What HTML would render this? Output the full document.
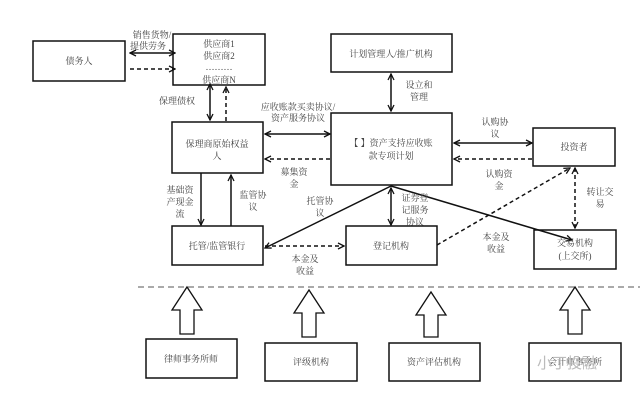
<!DOCTYPE html>
<html><head><meta charset="utf-8"><style>
body{margin:0;background:#fff}
svg text{font-family:"Liberation Serif","Noto Serif CJK SC",serif;font-size:9px;fill:#444}
</style></head><body>
<svg width="640" height="401" viewBox="0 0 640 401" xmlns="http://www.w3.org/2000/svg">
<defs>
<marker id="a" markerWidth="8" markerHeight="8" refX="7" refY="4" orient="auto-start-reverse" markerUnits="userSpaceOnUse"><path d="M1,1 L7,4 L1,7" fill="none" stroke="#111" stroke-width="1.3"/></marker>
</defs>
<g fill="#fff" stroke="#111" stroke-width="1.5">
<rect x="33" y="41" width="92" height="40"/>
<rect x="173" y="34" width="92" height="51"/>
<rect x="331" y="34" width="121" height="38"/>
<rect x="172" y="122" width="91" height="51"/>
<rect x="331" y="113" width="121" height="72"/>
<rect x="533" y="128" width="82" height="38"/>
<rect x="172" y="226" width="91" height="39"/>
<rect x="346" y="226" width="91" height="39"/>
<rect x="534" y="230" width="82" height="39"/>
<rect x="146" y="339" width="91" height="39"/>
<rect x="265" y="343" width="92" height="38"/>
<rect x="389" y="343" width="91" height="38"/>
<rect x="529" y="343" width="92" height="38"/>
</g>
<g stroke="#111" stroke-width="1.5" fill="none">
<line x1="130" y1="53" x2="175" y2="53" marker-start="url(#a)" marker-end="url(#a)"/>
<line x1="130" y1="69" x2="175" y2="69" stroke-dasharray="4,3" marker-end="url(#a)"/>
<line x1="210" y1="84" x2="210" y2="120" marker-start="url(#a)" marker-end="url(#a)"/>
<line x1="226" y1="121" x2="226" y2="87" stroke-dasharray="4,3" marker-end="url(#a)"/>
<line x1="265" y1="134" x2="330" y2="134" marker-start="url(#a)" marker-end="url(#a)"/>
<line x1="330" y1="159" x2="265" y2="159" stroke-dasharray="4,3" marker-end="url(#a)"/>
<line x1="391" y1="74" x2="391" y2="111" marker-start="url(#a)" marker-end="url(#a)"/>
<line x1="454" y1="143" x2="532" y2="143" marker-start="url(#a)" marker-end="url(#a)"/>
<line x1="532" y1="159" x2="454" y2="159" stroke-dasharray="4,3" marker-end="url(#a)"/>
<line x1="201" y1="173" x2="201" y2="225" marker-end="url(#a)"/>
<line x1="231" y1="226" x2="231" y2="175" marker-end="url(#a)"/>
<line x1="391" y1="186" x2="265" y2="248" marker-end="url(#a)"/>
<line x1="391" y1="188" x2="391" y2="225" marker-start="url(#a)" marker-end="url(#a)"/>
<line x1="391" y1="186" x2="572" y2="240" marker-end="url(#a)"/>
<line x1="265" y1="246" x2="344" y2="246" stroke-dasharray="4,3" marker-end="url(#a)"/>
<line x1="437" y1="245" x2="570" y2="168" stroke-dasharray="4,3" marker-end="url(#a)"/>
<line x1="575" y1="168" x2="575" y2="228" stroke-dasharray="4,3" marker-start="url(#a)" marker-end="url(#a)"/>
<line x1="138" y1="287" x2="640" y2="287" stroke="#777" stroke-width="1.2" stroke-dasharray="6,4"/>
</g>
<g fill="#fff" stroke="#111" stroke-width="1.3">
<path d="M180,334 L180,310 L172,310 L187,287 L202,310 L194,310 L194,334 Z"/>
<path d="M302,337 L302,313 L294,313 L309,290 L324,313 L316,313 L316,337 Z"/>
<path d="M424,337 L424,315 L416,315 L431,292 L446,315 L438,315 L438,337 Z"/>
<path d="M568,334 L568,310 L560,310 L575,287 L590,310 L582,310 L582,334 Z"/>
</g>
<g text-anchor="middle">
<text x="79" y="64">债务人</text>
<text x="219" y="47">供应商1</text>
<text x="219" y="59">供应商2</text>
<text x="219" y="70">………</text>
<text x="219" y="83">供应商N</text>
<text x="391" y="57">计划管理人/推广机构</text>
<text x="217" y="147">保理商原始权益</text>
<text x="217" y="159">人</text>
<text x="391" y="146">【  】资产支持应收账</text>
<text x="391" y="159">款专项计划</text>
<text x="574" y="150">投资者</text>
<text x="217" y="249">托管/监管银行</text>
<text x="391" y="249">登记机构</text>
<text x="575" y="246">交易机构</text>
<text x="575" y="259">(上交所)</text>
<text x="191" y="362">律师事务所师</text>
<text x="311" y="365">评级机构</text>
<text x="434" y="365">资产评估机构</text>
<text x="575" y="365">会计师事务所</text>
<text x="152" y="38">销售货物/</text>
<text x="148" y="49">提供劳务</text>
<text x="177" y="104">保理债权</text>
<text x="298" y="110">应收账款买卖协议/</text>
<text x="298" y="121">资产服务协议</text>
<text x="294" y="175">募集资</text>
<text x="294" y="187">金</text>
<text x="419" y="88">设立和</text>
<text x="419" y="100">管理</text>
<text x="495" y="125">认购协</text>
<text x="495" y="137">议</text>
<text x="499" y="177">认购资</text>
<text x="499" y="189">金</text>
<text x="180" y="193">基础资</text>
<text x="180" y="205">产现金</text>
<text x="180" y="217">流</text>
<text x="253" y="198">监管协</text>
<text x="253" y="210">议</text>
<text x="320" y="204">托管协</text>
<text x="320" y="216">议</text>
<text x="415" y="201">证券登</text>
<text x="415" y="213">记服务</text>
<text x="415" y="225">协议</text>
<text x="305" y="262">本金及</text>
<text x="305" y="274">收益</text>
<text x="496" y="240">本金及</text>
<text x="496" y="252">收益</text>
<text x="600" y="195">转让交</text>
<text x="600" y="207">易</text>
</g>
<text x="537" y="368" style="font-size:15px;fill:#bbb;font-family:'Liberation Sans','Noto Sans CJK SC',sans-serif">小丁投融</text>
</svg>
</body></html>
